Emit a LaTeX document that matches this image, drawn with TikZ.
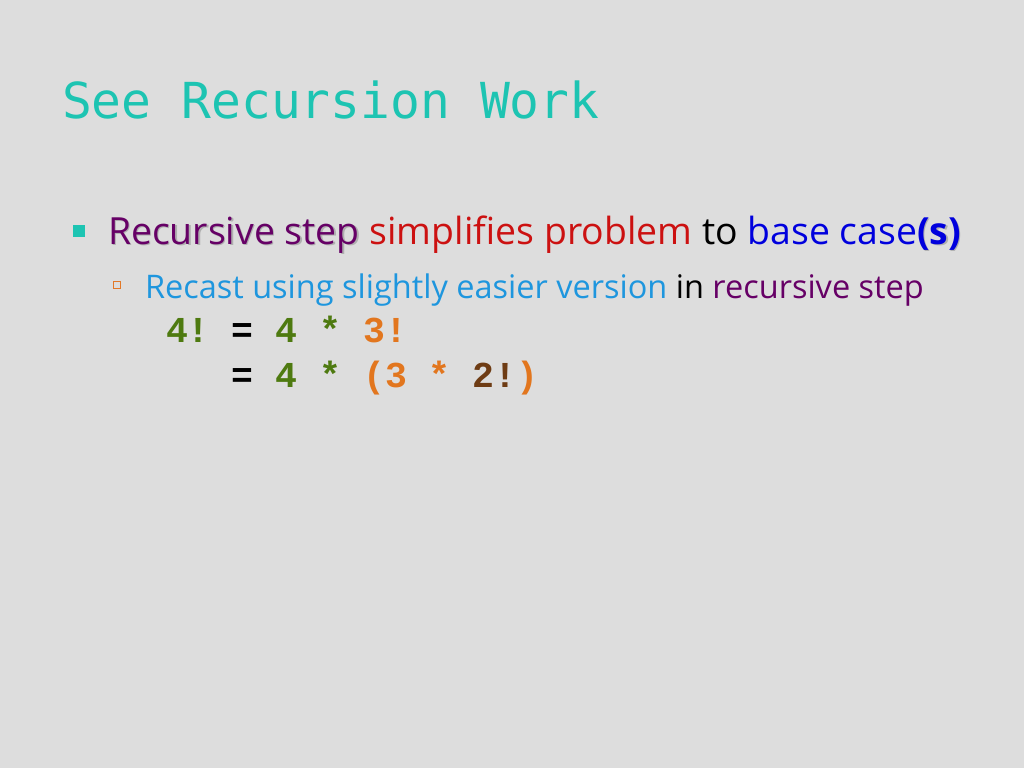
\documentclass[tikz,border=0pt]{standalone}
\usepackage{fontspec}
\setmainfont{Open Sans}
\setmonofont{Liberation Mono}
\newfontfamily\titlefont{DejaVu Sans Mono}
\definecolor{slidebg}{RGB}{221,221,221}
\definecolor{titleteal}{RGB}{29,196,178}
\definecolor{recpurple}{RGB}{102,0,102}
\definecolor{simpred}{RGB}{204,17,17}
\definecolor{baseblue}{RGB}{0,0,221}
\definecolor{recastblue}{RGB}{30,150,222}
\definecolor{codegreen}{RGB}{78,122,16}
\definecolor{codeorange}{RGB}{226,118,30}
\definecolor{codebrown}{RGB}{110,60,20}
\definecolor{subbox}{RGB}{226,120,40}
\definecolor{shadowgray}{RGB}{175,175,175}
\newcommand{\shadowed}[2]{\makebox[0pt][l]{\raisebox{-1.2pt}{\hspace{1.2pt}\textcolor{shadowgray}{#2}}}\textcolor{#1}{#2}}

\begin{document}
\begin{tikzpicture}[x=1pt, y=-1pt, every node/.style={inner sep=0pt, outer sep=0pt, anchor=base west}]

\fill[slidebg] (0,0) rectangle (1024,768);
\useasboundingbox (0,0) rectangle (1024,768);

% title
\node (title) at (62,118) {\fontsize{49.6}{55}\selectfont\titlefont\color{titleteal}See Recursion Work};

% first level bullet
\fill[titleteal] (73,225) rectangle (85,237);
\node (step) at (108,244) {\fontsize{37.4}{42}\selectfont\shadowed{recpurple}{Recursive step} \textcolor{simpred}{simplifies problem} to \textcolor{baseblue}{base case}\shadowed{baseblue}{\bfseries(s)}};

% second level bullet
\draw[subbox, line width=1pt] (113.5,281.5) rectangle (120.5,288.5);
\node (recast) at (145,298) {\fontsize{32.5}{38}\selectfont\textcolor{recastblue}{Recast using slightly easier version} in \textcolor{recpurple}{recursive step}};

% code
\node (lineA) at (166,342) {\fontsize{36.5}{40}\selectfont\ttfamily\bfseries\textcolor{codegreen}{4!} = \textcolor{codegreen}{4 *} \textcolor{codeorange}{3!}};
\node (lineB) at (166,387) {\fontsize{36.5}{40}\selectfont\ttfamily\bfseries\phantom{4! }= \textcolor{codegreen}{4 *} \textcolor{codeorange}{(3 *} \textcolor{codebrown}{2!}\textcolor{codeorange}{)}};

\end{tikzpicture}
\end{document}
